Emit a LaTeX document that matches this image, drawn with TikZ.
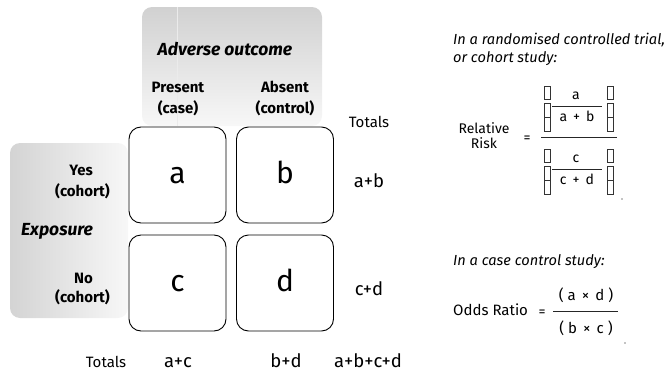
\documentclass[tikz,border=0pt]{standalone}
\usepackage{fontspec}
\setmainfont{Fira Sans}
\begin{document}
\begin{tikzpicture}[x=1pt,y=-1pt,
  cell/.style={draw=black, line width=0.9pt, rounded corners=12pt,
    minimum width=97pt, minimum height=96pt, inner sep=0pt,
    text height=16pt, text depth=0pt, font=\fontsize{30}{32}\selectfont},
  hdr/.style={anchor=base, inner sep=0pt, font=\fontsize{15}{17}\selectfont\bfseries},
  ttl/.style={anchor=base, inner sep=0pt, font=\fontsize{17.5}{19}\selectfont\bfseries\itshape},
  tot/.style={anchor=base, inner sep=0pt, font=\fontsize{15}{17}\selectfont},
  sum/.style={anchor=base, inner sep=0pt, font=\fontsize{18.5}{20}\selectfont},
  note/.style={anchor=base west, inner sep=0pt, font=\fontsize{14.6}{16}\selectfont\itshape},
  frm/.style={anchor=base, inner sep=0pt, font=\fontsize{14}{16}\selectfont},
  tofu/.style={draw=black!80, line width=0.5pt},
  bar/.style={draw=black!85, line width=0.8pt}]
\useasboundingbox (0,0) rectangle (667,372);

% grey panels
\shade[top color=black!18, bottom color=black!3, rounded corners=10pt] (142,7) rectangle (322,126);
\draw[black!8, line width=0.4pt] (177,7) -- (177,126);
\shade[left color=black!17, right color=black!3, rounded corners=10pt] (10,143) rectangle (128,318);

% column headers
\node[ttl] (adv) at (225,55) {Adverse outcome};
\node[hdr] (pres1) at (178,92) {Present};
\node[hdr] (pres2) at (178,113) {(case)};
\node[hdr] (abs1) at (285,92) {Absent};
\node[hdr] (abs2) at (285,113) {(control)};
\node[tot] (totR) at (369,127) {Totals};

% row headers
\node[hdr, anchor=base east] (yes1) at (93,175) {Yes};
\node[hdr, anchor=base east] (yes2) at (110,196) {(cohort)};
\node[ttl, anchor=base west] (expo) at (21,235) {Exposure};
\node[hdr, anchor=base east] (no1) at (93,283) {No};
\node[hdr, anchor=base east] (no2) at (110,302) {(cohort)};

% cells
\node[cell] (a) at (177.5,175) {a};
\node[cell] (b) at (285,175) {b};
\node[cell] (c) at (177.5,283) {c};
\node[cell] (d) at (285,283) {d};

% totals
\node[sum] (ab) at (369,187) {a+b};
\node[sum] (cd) at (369,295) {c+d};
\node[tot] (totB) at (106,367) {Totals};
\node[sum] (ac) at (178,367) {a+c};
\node[sum] (bd) at (286,367) {b+d};
\node[sum] (all) at (368,367) {a+b+c+d};

% relative risk
\node[note] (rct1) at (453,44) {In a randomised controlled trial,};
\node[note] (rct2) at (453,62) {or cohort study:};
\node[frm] (rel) at (484,133) {Relative};
\node[frm] (risk) at (484,148) {Risk};
\node[frm] (eq1) at (527,142) {=};
\draw[bar] (541,137) -- (617,137);
% numerator
\node[frm] (na) at (576,99) {a};
\node[frm] (nab) at (577,121) {a\, +\, b};
\draw[bar, line width=0.6pt] (552,106) -- (602,106);
\draw[tofu] (544,86) rectangle (550,99);
\draw[tofu] (544,103) rectangle (550,131); \draw[tofu] (544,117) -- (550,117);
\draw[tofu] (607,86) rectangle (613,99);
\draw[tofu] (607,103) rectangle (613,131); \draw[tofu] (607,117) -- (613,117);
% denominator
\node[frm] (dc) at (576,162) {c};
\node[frm] (dcd) at (577,184) {c\, +\, d};
\draw[bar, line width=0.6pt] (552,169) -- (602,169);
\draw[tofu] (544,149) rectangle (550,162);
\draw[tofu] (544,166) rectangle (550,194); \draw[tofu] (544,180) -- (550,180);
\draw[tofu] (607,149) rectangle (613,162);
\draw[tofu] (607,166) rectangle (613,194); \draw[tofu] (607,180) -- (613,180);
\fill (622,199) circle (0.7);

% odds ratio
\node[note] (cc) at (453,265) {In a case control study:};
\node[frm, anchor=base west, font=\fontsize{15}{17}\selectfont] (odds) at (453,315) {Odds Ratio};
\node[frm] (eq2) at (542,316) {=};
\draw[bar] (553,311) -- (618,311);
\node[frm, font=\fontsize{15}{17}\selectfont] (num) at (586,300) {(\hspace{4pt}a\hspace{6pt}×\hspace{6pt}d\hspace{4pt})};
\node[frm, font=\fontsize{15}{17}\selectfont] (den) at (586,333) {(\hspace{4pt}b\hspace{6pt}×\hspace{6pt}c\hspace{4pt})};
\fill (625,343) circle (0.7);
\end{tikzpicture}
\end{document}
